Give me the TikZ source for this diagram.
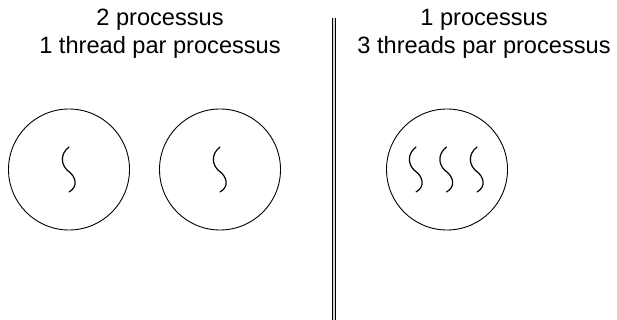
\documentclass[tikz,border=0pt]{standalone}
\usepackage{fontspec}
\setmainfont{Liberation Sans}
\begin{document}
\begin{tikzpicture}[x=1pt,y=-1pt,
  proc/.style={draw, circle, line width=0.9pt, minimum size=121pt, inner sep=0pt},
  threadline/.style={line width=1.2pt, line cap=round},
  label/.style={anchor=base, inner sep=0pt, font=\fontsize{23.6}{28}\selectfont},
  thread/.pic={\draw[threadline] (0,0) .. controls (-9,7) and (-8,17) .. (-2,23) .. controls (8,30) and (9,40) .. (0,45);}
]
\useasboundingbox (0,0) rectangle (617,320);
% titles
\node[label] (t1a) at (160,26) {2 processus};
\node[label] (t1b) at (160,54) {1 thread par processus};
\node[label] (t2a) at (484,26) {1 processus};
\node[label] (t2b) at (484,54) {3 threads par processus};
% divider
\coordinate (dtop) at (333.8,18);
\coordinate (dbot) at (333.8,320);
\draw[double=black!15, double distance=2pt, line width=0.9pt] (dtop) -- (dbot);
% processes
\node[proc] (p1) at (69,169.5) {};
\node[proc] (p2) at (220,169.5) {};
\node[proc] (p3) at (447,169.5) {};
% threads
\pic at (69,147) {thread};
\pic at (220,147) {thread};
\pic at (416,147) {thread};
\pic at (446.5,147) {thread};
\pic at (477,147) {thread};
\end{tikzpicture}
\end{document}
